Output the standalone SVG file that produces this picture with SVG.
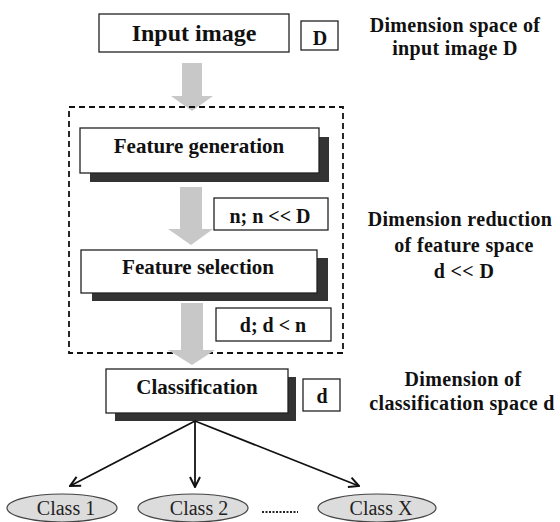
<svg xmlns="http://www.w3.org/2000/svg" width="560" height="522" viewBox="0 0 560 522">
<defs>
<style>
.box{fill:#fff;stroke:#222;stroke-width:1.3}
.shadow{fill:#333}
.bt{font-family:'Liberation Serif','DejaVu Serif',serif;font-weight:bold;fill:#111;text-anchor:middle}
.lbl{letter-spacing:0.35px}
.rt{font-family:'Liberation Serif','DejaVu Serif',serif;fill:#222;text-anchor:middle;font-size:20px}
.garrow{fill:#c8c8c8}
.conn{stroke:#111;stroke-width:1.8;fill:none}
.cls{fill:#dcdcdc;stroke:#444;stroke-width:1.2}
</style>
<marker id="ah" viewBox="0 0 12 12" refX="11" refY="6" markerWidth="12" markerHeight="12" markerUnits="userSpaceOnUse" orient="auto">
<path d="M1,1 L11,6 L1,11" fill="none" stroke="#111" stroke-width="2"/>
</marker>
</defs>
<rect width="560" height="522" fill="#fff"/>

<g id="flow-arrows">
<polygon id="arrow1" class="garrow" points="182,63 202,63 202,96 213,96 192,111 171,96 182,96"/>
</g>

<g id="reduction-group">
<rect x="69" y="107" width="274" height="246" fill="none" stroke="#111" stroke-width="1.8" stroke-dasharray="6,4"/>
</g>

<g id="input-image">
<rect class="box" x="99" y="14" width="190" height="38" stroke-width="1.5"/>
<text class="bt" x="194" y="41" font-size="24">Input image</text>
</g>
<g id="input-dim">
<rect class="box" x="301" y="21" width="37" height="29"/>
<text class="bt" x="320" y="45" font-size="20">D</text>
</g>

<g id="feature-generation">
<rect class="shadow" x="90" y="137" width="239" height="45"/>
<rect class="box" x="80" y="128" width="239" height="45"/>
<text class="bt" x="199" y="153" font-size="21">Feature generation</text>
</g>

<polygon id="arrow2" class="garrow" points="180,187 202,187 202,229 213,229 191,245 168,229 180,229"/>

<g id="n-dim">
<rect class="box" x="214" y="198" width="114" height="32"/>
<text class="bt" x="270" y="223" font-size="20">n;  n &lt;&lt; D</text>
</g>

<g id="feature-selection">
<rect class="shadow" x="92" y="258" width="236" height="43"/>
<rect class="box" x="81" y="250" width="236" height="43"/>
<text class="bt" x="198" y="274" font-size="21">Feature selection</text>
</g>

<g id="d-dim">
<rect class="box" x="216" y="308" width="115" height="33"/>
<text class="bt" x="273" y="332" font-size="20">d;  d &lt; n</text>
</g>

<polygon id="arrow3" class="garrow" points="181,303 203,303 203,350 215,350 192,365 168,350 181,350"/>

<g id="classification">
<rect class="shadow" x="115" y="377" width="181" height="44"/>
<rect class="box" x="106" y="369" width="182" height="44"/>
<text class="bt" x="197" y="394" font-size="21">Classification</text>
</g>
<g id="class-dim">
<rect class="box" x="303" y="379" width="37" height="32"/>
<text class="bt" x="322" y="403" font-size="20">d</text>
</g>

<g id="labels">
<text class="bt lbl" x="455" y="32" font-size="20">Dimension space of</text>
<text class="bt lbl" x="455" y="55" font-size="20">input image D</text>
<text class="bt lbl" x="460" y="226" font-size="20">Dimension reduction</text>
<text class="bt lbl" x="464" y="252" font-size="20">of feature space</text>
<text class="bt lbl" x="464" y="278" font-size="20">d &lt;&lt; D</text>
<text class="bt lbl" x="463" y="386" font-size="20">Dimension of</text>
<text class="bt lbl" x="462" y="410" font-size="20">classification space d</text>
</g>

<g id="connectors">
<line class="conn" x1="195" y1="421" x2="70" y2="486" marker-end="url(#ah)"/>
<line class="conn" x1="195" y1="421" x2="195" y2="487" marker-end="url(#ah)"/>
<line class="conn" x1="195" y1="421" x2="359" y2="486" marker-end="url(#ah)"/>
</g>

<g id="class-1">
<ellipse class="cls" cx="62" cy="508" rx="55" ry="14"/>
<text class="rt" x="66" y="515">Class 1</text>
</g>
<g id="class-2">
<ellipse class="cls" cx="193" cy="508" rx="55" ry="14"/>
<text class="rt" x="199" y="515">Class 2</text>
</g>
<line id="ellipsis" x1="262" y1="512" x2="298" y2="512" stroke="#222" stroke-width="2" stroke-dasharray="2,1.5"/>
<g id="class-x">
<ellipse class="cls" cx="377" cy="508" rx="59" ry="14"/>
<text class="rt" x="381" y="515">Class X</text>
</g>
</svg>
